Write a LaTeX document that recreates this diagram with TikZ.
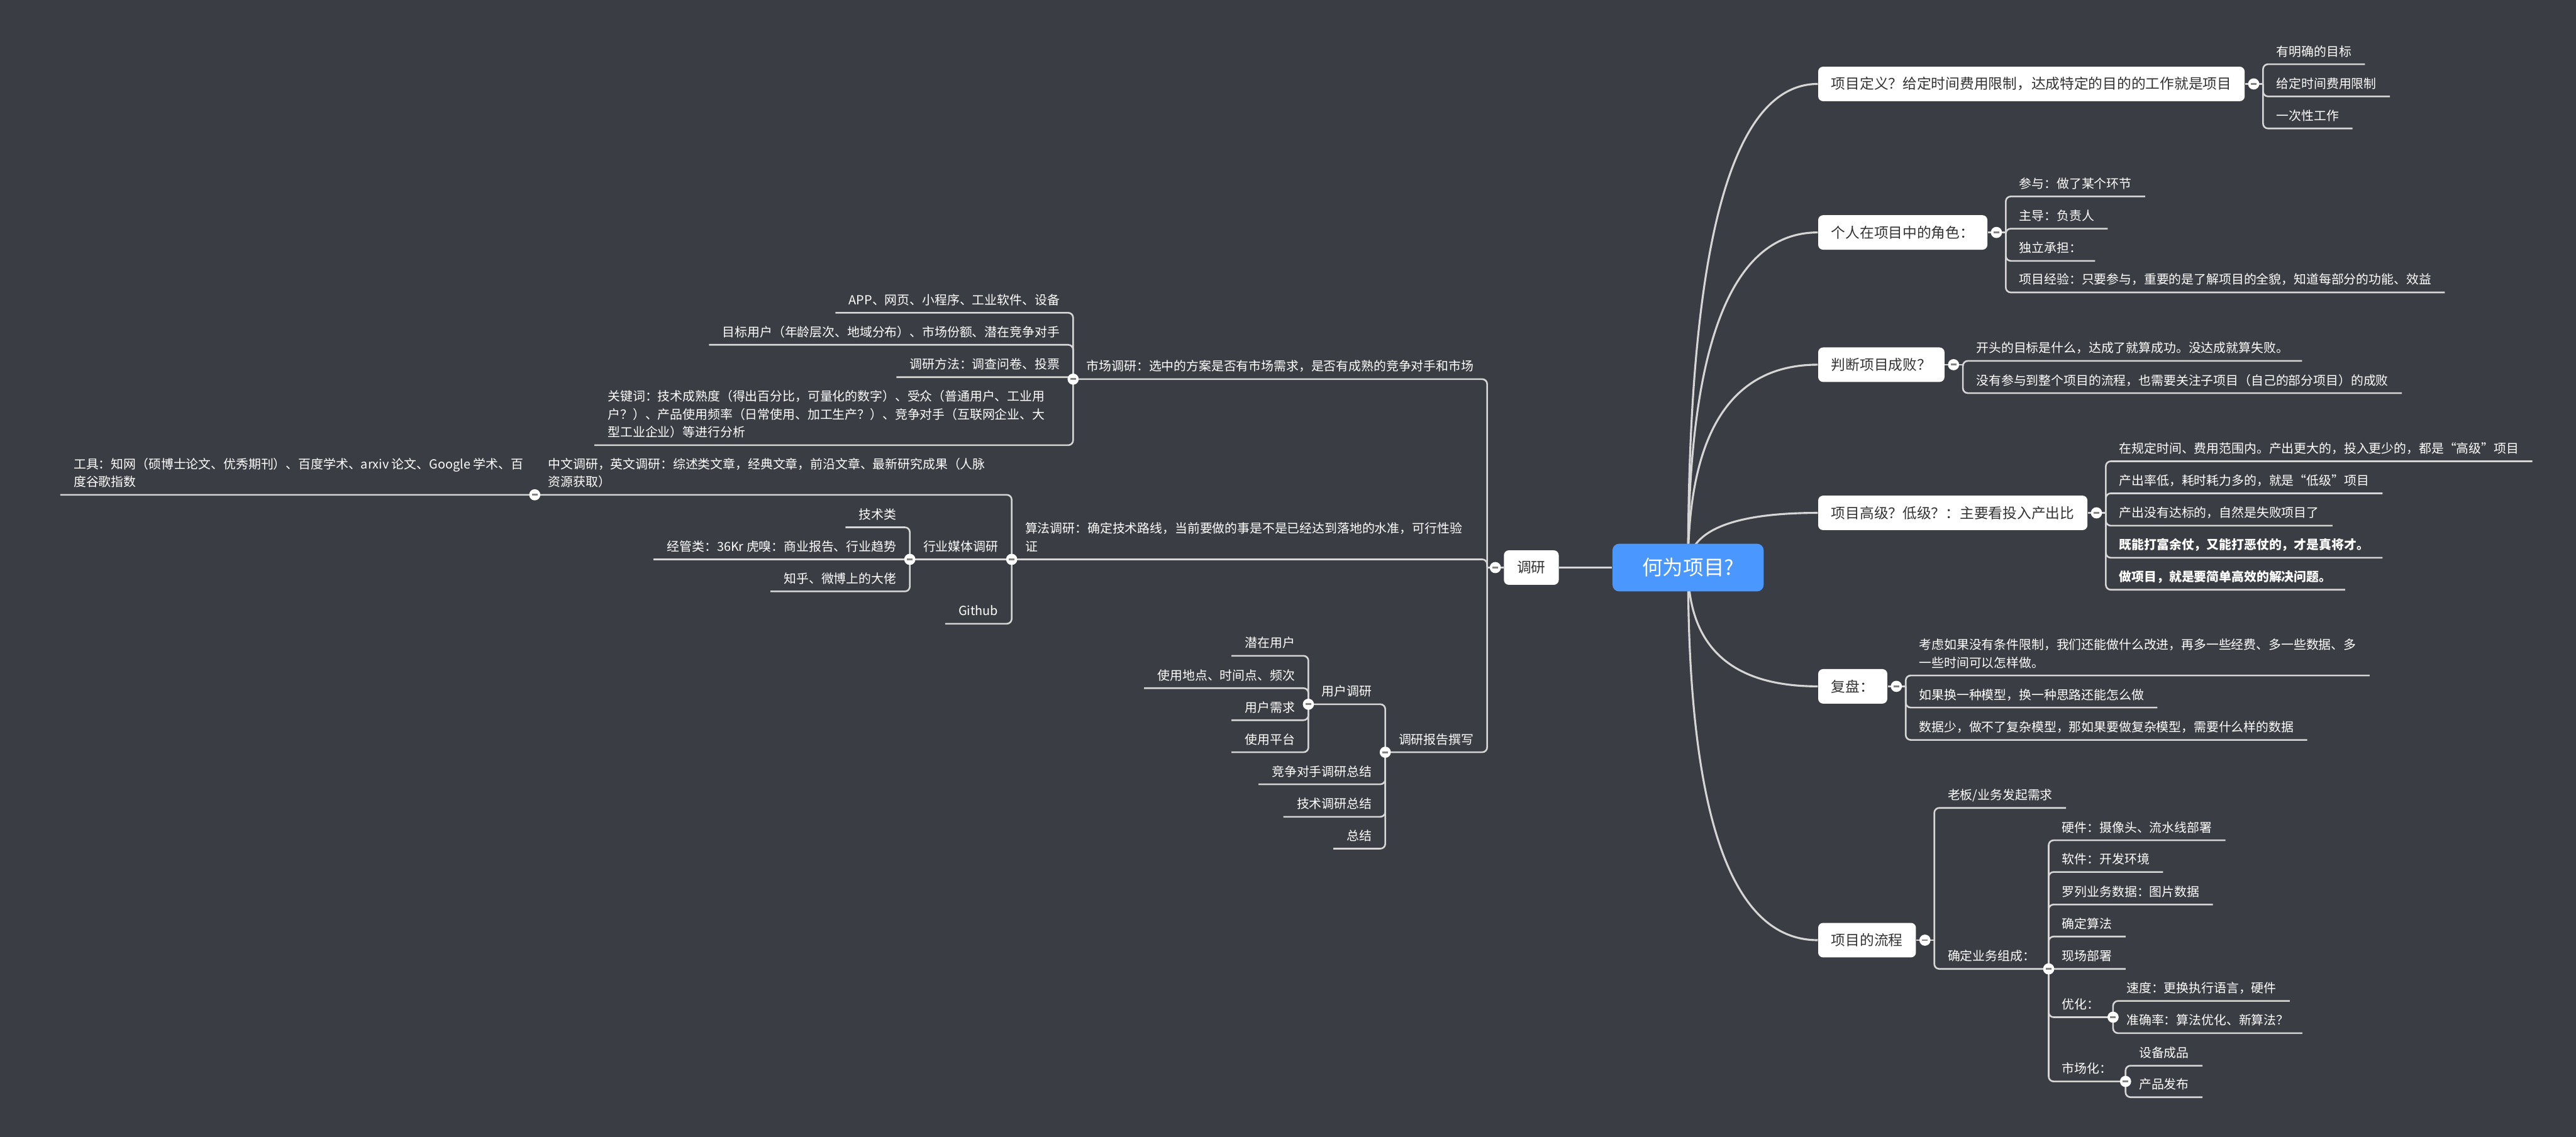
\documentclass[tikz,border=0pt]{standalone}
\usepackage{fontspec}
\setmainfont{Noto Sans CJK SC}
\usetikzlibrary{calc}
\definecolor{bgC}{RGB}{58,61,67}
\definecolor{lineC}{RGB}{214,214,214}
\definecolor{topicT}{RGB}{51,51,51}
\definecolor{centerC}{RGB}{74,151,255}
\definecolor{minusC}{RGB}{130,130,130}
\pgfdeclarelayer{bglayer}
\pgfdeclarelayer{linelayer}
\pgfsetlayers{bglayer,linelayer,main}
\newcommand\lf{\fontsize{7.6}{10.9}\selectfont}
\newcommand\tf{\fontsize{8.7}{10}\selectfont}
\newcommand\mlines[1]{\vbox{\baselineskip=10.9pt #1}}
\tikzset{
 conn/.style={draw=lineC, line width=1pt, rounded corners=3pt},
 maincurve/.style={draw=lineC, line width=1.2pt},
 leaf/.style={font=\lf, text=white, inner xsep=8pt, inner ysep=3.2pt, text depth=1.6pt},
 leafb/.style={leaf, font=\lf\bfseries},
 topic/.style={fill=white, rounded corners=3pt, font=\tf, text=topicT, inner xsep=8pt, inner ysep=0pt, minimum height=21pt, anchor=west},
 knob/.style={circle, fill=white, minimum size=6.8pt, inner sep=0pt,
   path picture={\fill[minusC] ([xshift=-1.7pt,yshift=-0.55pt]path picture bounding box.center) rectangle ([xshift=1.7pt,yshift=0.55pt]path picture bounding box.center);}},
}
\begin{document}
\begin{tikzpicture}[x=1pt,y=-1pt]
\path[use as bounding box] (0,0) rectangle (1568,692);
\begin{pgfonlayer}{bglayer}
\fill[bgC] (0,0) rectangle (1568,692);
\end{pgfonlayer}

% centre
\node[fill=centerC, rounded corners=4pt, text=white, font=\fontsize{12.5}{14}\selectfont, minimum width=92pt, minimum height=29pt, inner sep=0pt] (ctr) at (1027.5,345.5) {何为项目?};

% right topics
\node[topic] (t1) at (1106.5,51.1) {项目定义？给定时间费用限制，达成特定的目的的工作就是项目};
\node[topic] (t2) at (1106.5,141.5) {个人在项目中的角色：};
\node[topic] (t3) at (1106.5,222) {判断项目成败？};
\node[topic] (t4) at (1106.5,312.2) {项目高级？低级？：主要看投入产出比};
\node[topic] (t5) at (1106.5,417.8) {复盘：};
\node[topic] (t6) at (1106.5,572.3) {项目的流程};
\foreach \t in {t1,t2,t3,t4,t5,t6}{
  \coordinate (\t b) at ([xshift=11pt]\t.east);
}

% t1
\node[leaf, anchor=south west] (t1x) at (t1b |- 0,39.1) {有明确的目标};
\node[leaf, anchor=south west] (t1y) at (t1b |- 0,58.7) {给定时间费用限制};
\node[leaf, anchor=south west] (t1z) at (t1b |- 0,78.2) {一次性工作};
% t2
\node[leaf, anchor=south west] (t2w) at (t2b |- 0,119.6) {参与：做了某个环节};
\node[leaf, anchor=south west] (t2x) at (t2b |- 0,139.2) {主导：负责人};
\node[leaf, anchor=south west] (t2y) at (t2b |- 0,158.8) {独立承担：};
\node[leaf, anchor=south west] (t2z) at (t2b |- 0,178) {项目经验：只要参与，重要的是了解项目的全貌，知道每部分的功能、效益};
% t3
\node[leaf, anchor=south west] (t3x) at (t3b |- 0,219.7) {开头的目标是什么，达成了就算成功。没达成就算失败。};
\node[leaf, anchor=south west] (t3y) at (t3b |- 0,239.3) {没有参与到整个项目的流程，也需要关注子项目（自己的部分项目）的成败};
% t4
\node[leaf, anchor=south west] (t4v) at (t4b |- 0,280.8) {在规定时间、费用范围内。产出更大的，投入更少的，都是“高级”项目};
\node[leaf, anchor=south west] (t4w) at (t4b |- 0,300.3) {产出率低，耗时耗力多的，就是“低级”项目};
\node[leaf, anchor=south west] (t4x) at (t4b |- 0,320) {产出没有达标的，自然是失败项目了};
\node[leafb, anchor=south west] (t4y) at (t4b |- 0,339.5) {既能打富余仗，又能打恶仗的，才是真将才。};
\node[leafb, anchor=south west] (t4z) at (t4b |- 0,359) {做项目，就是要简单高效的解决问题。};
% t5
\node[leaf, anchor=south west] (t5x) at (t5b |- 0,411.2) {\mlines{\hbox{考虑如果没有条件限制，我们还能做什么改进，再多一些经费、多一些数据、多}\hbox{一些时间可以怎样做。}}};
\node[leaf, anchor=south west] (t5y) at (t5b |- 0,430.7) {如果换一种模型，换一种思路还能怎么做};
\node[leaf, anchor=south west] (t5z) at (t5b |- 0,450.4) {数据少，做不了复杂模型，那如果要做复杂模型，需要什么样的数据};
% t6
\node[leaf, anchor=south west] (t6x) at (t6b |- 0,491.8) {老板/业务发起需求};
\node[leaf, anchor=south west] (qd) at (t6b |- 0,589.8) {确定业务组成：};
\node[leaf, anchor=south west] (qd1) at (qd.south east |- 0,511.5) {硬件：摄像头、流水线部署};
\node[leaf, anchor=south west] (qd2) at (qd.south east |- 0,530.8) {软件：开发环境};
\node[leaf, anchor=south west] (qd3) at (qd.south east |- 0,550.6) {罗列业务数据：图片数据};
\node[leaf, anchor=south west] (qd4) at (qd.south east |- 0,570.1) {确定算法};
\node[leaf, anchor=south west] (qd5) at (qd.south east |- 0,589.8) {现场部署};
\node[leaf, anchor=south west] (yz) at (qd.south east |- 0,619.2) {优化：};
\node[leaf, anchor=south west] (sc) at (qd.south east |- 0,658.3) {市场化：};
\node[leaf, anchor=south west] (yz1) at (yz.south east |- 0,609.3) {速度：更换执行语言，硬件};
\node[leaf, anchor=south west] (yz2) at (yz.south east |- 0,628.9) {准确率：算法优化、新算法？};
\node[leaf, anchor=south west] (sc1) at (sc.south east |- 0,648.7) {设备成品};
\node[leaf, anchor=south west] (sc2) at (sc.south east |- 0,667.9) {产品发布};

% left: 调研
\node[topic, anchor=east] (dy) at (949,345.5) {调研};
\coordinate (dyb) at ([xshift=-10pt]dy.west);
\node[leaf, anchor=south east] (mk) at (dyb |- 0,230.8) {市场调研：选中的方案是否有市场需求，是否有成熟的竞争对手和市场};
\node[leaf, anchor=south west] (sf) at (615.8,340.5) {\mlines{\hbox{算法调研：确定技术路线，当前要做的事是不是已经达到落地的水准，可行性验}\hbox{证}}};
\node[leaf, anchor=south east] (bg) at (dyb |- 0,457.9) {调研报告撰写};
% market
\node[leaf, anchor=south east] (mk1) at (mk.south west |- 0,190.4) {APP、网页、小程序、工业软件、设备};
\node[leaf, anchor=south east] (mk2) at (mk.south west |- 0,209.9) {目标用户（年龄层次、地域分布）、市场份额、潜在竞争对手};
\node[leaf, anchor=south east] (mk3) at (mk.south west |- 0,229.6) {调研方法：调查问卷、投票};
\node[leaf, anchor=south west] (kw) at (361.8,271) {\mlines{\hbox{关键词：技术成熟度（得出百分比，可量化的数字）、受众（普通用户、工业用}\hbox{户？）、产品使用频率（日常使用、加工生产？）、竞争对手（互联网企业、大}\hbox{型工业企业）等进行分析}}};
% algorithm
\node[leaf, anchor=south west] (zw) at (325.5,301.2) {\mlines{\hbox{中文调研，英文调研：综述类文章，经典文章，前沿文章、最新研究成果（人脉}\hbox{资源获取）}}};
\node[leaf, anchor=south west] (gj) at (36.7,301.2) {\mlines{\hbox{工具：知网（硕博士论文、优秀期刊）、百度学术、arxiv 论文、Google 学术、百}\hbox{度谷歌指数}}};
\node[leaf, anchor=south east] (hy) at (sf.south west) {行业媒体调研};
\node[leaf, anchor=south east] (hy1) at (hy.south west |- 0,321) {技术类};
\node[leaf, anchor=south east] (hy2) at (hy.south west |- 0,340.5) {经管类：36Kr 虎嗅：商业报告、行业趋势};
\node[leaf, anchor=south east] (hy3) at (hy.south west |- 0,360) {知乎、微博上的大佬};
\node[leaf, anchor=south east] (gh) at (sf.south west |- 0,379.7) {Github};
% report
\node[leaf, anchor=south east] (yh) at (bg.south west |- 0,428.7) {用户调研};
\node[leaf, anchor=south east] (yh1) at (yh.south west |- 0,399.2) {潜在用户};
\node[leaf, anchor=south east] (yh2) at (yh.south west |- 0,418.9) {使用地点、时间点、频次};
\node[leaf, anchor=south east] (yh3) at (yh.south west |- 0,438.4) {用户需求};
\node[leaf, anchor=south east] (yh4) at (yh.south west |- 0,457.9) {使用平台};
\node[leaf, anchor=south east] (bg2) at (bg.south west |- 0,477.4) {竞争对手调研总结};
\node[leaf, anchor=south east] (bg3) at (bg.south west |- 0,497.2) {技术调研总结};
\node[leaf, anchor=south east] (bg4) at (bg.south west |- 0,516.6) {总结};

% knobs
\foreach \t in {t1,t2,t3,t4,t5,t6}{
  \node[knob] (k\t) at ([xshift=5.3pt]\t.east) {};
}
\node[knob] (kqd) at (qd.south east) {};
\node[knob] (kyz) at (yz.south east) {};
\node[knob] (ksc) at (sc.south east) {};
\node[knob] (kdy) at ([xshift=-5pt]dy.west) {};
\node[knob] (kmk) at (mk.south west) {};
\node[knob] (ksf) at (sf.south west) {};
\node[knob] (kbg) at (bg.south west) {};
\node[knob] (kzw) at (zw.south west) {};
\node[knob] (khy) at (hy.south west) {};
\node[knob] (kyh) at (yh.south west) {};

\begin{pgfonlayer}{linelayer}
\foreach \t in {t1,t2,t3,t4,t5,t6}{
  \coordinate (q) at (ctr.center |- \t.west);
  \draw[maincurve] (ctr.center) .. controls ($(ctr.center)!0.667!(q)$) and ($(\t.west)!0.667!(q)$) .. (\t.west);
  \draw[conn] (\t.east) -- (\t b);
}
\draw[maincurve] (ctr.west) -- (dy.east);
\draw[conn] (dy.west) -- (dyb);
% right children
\foreach \c in {t1x,t1y,t1z}{\draw[conn] (t1b) |- (\c.south east);}
\foreach \c in {t2w,t2x,t2y,t2z}{\draw[conn] (t2b) |- (\c.south east);}
\foreach \c in {t3x,t3y}{\draw[conn] (t3b) |- (\c.south east);}
\foreach \c in {t4v,t4w,t4x,t4y,t4z}{\draw[conn] (t4b) |- (\c.south east);}
\foreach \c in {t5x,t5y,t5z}{\draw[conn] (t5b) |- (\c.south east);}
\foreach \c in {t6x,qd}{\draw[conn] (t6b) |- (\c.south east);}
\foreach \c in {qd1,qd2,qd3,qd4,qd5,yz,sc}{\draw[conn] (qd.south east) |- (\c.south east);}
\foreach \c in {yz1,yz2}{\draw[conn] (yz.south east) |- (\c.south east);}
\foreach \c in {sc1,sc2}{\draw[conn] (sc.south east) |- (\c.south east);}
% left children
\foreach \c in {mk,sf,bg}{\draw[conn] (dyb) |- (\c.south west);}
\foreach \c in {mk1,mk2,mk3,kw}{\draw[conn] (mk.south west) |- (\c.south west);}
\foreach \c in {zw,hy,gh}{\draw[conn] (sf.south west) |- (\c.south west);}
\draw[conn] (zw.south west) |- (gj.south west);
\foreach \c in {hy1,hy2,hy3}{\draw[conn] (hy.south west) |- (\c.south west);}
\foreach \c in {yh,bg2,bg3,bg4}{\draw[conn] (bg.south west) |- (\c.south west);}
\foreach \c in {yh1,yh2,yh3,yh4}{\draw[conn] (yh.south west) |- (\c.south west);}
\end{pgfonlayer}
\end{tikzpicture}
\end{document}
